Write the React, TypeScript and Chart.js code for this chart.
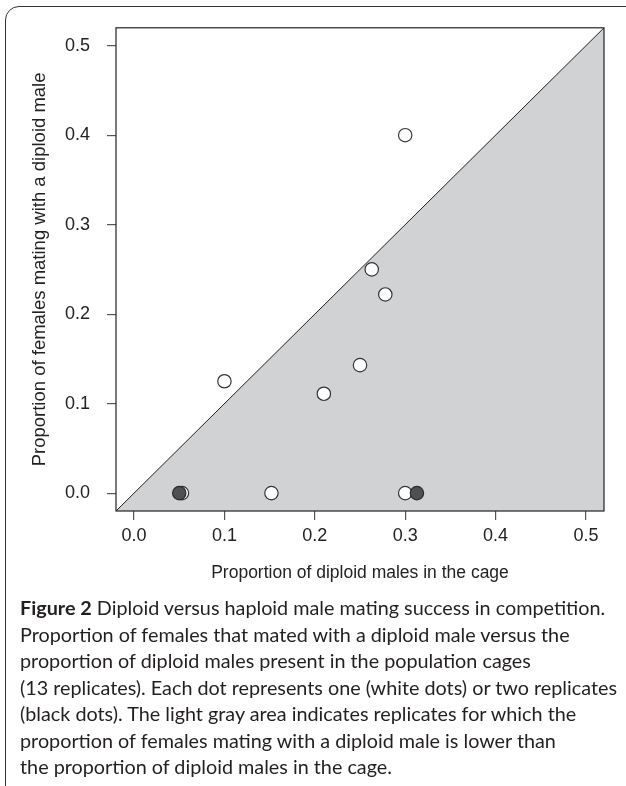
import React, { useEffect, useRef } from "react";
import { Chart, registerables } from "chart.js";

Chart.register(...registerables);

// Axis range (R default 4% extension of 0..0.5)
const AXIS_MIN = -0.02;
const AXIS_MAX = 0.52;
const TICK_VALUES = [0, 0.1, 0.2, 0.3, 0.4, 0.5];

// One replicate per dot (white)
const WHITE_X = [0.3, 0.263, 0.278, 0.1, 0.25, 0.21, 0.053, 0.152, 0.3];
const WHITE_Y = [0.4, 0.25, 0.222, 0.125, 0.143, 0.111, 0.0, 0.0, 0.0];

// Two replicates per dot (black)
const BLACK_X = [0.05, 0.313];
const BLACK_Y = [0.0, 0.0];

const X_TITLE = "Proportion of diploid males in the cage";
const Y_TITLE = "Proportion of females mating with a diploid male";

const CAPTION_BOLD = "Figure 2";
const CAPTION_LINES = [
  " Diploid versus haploid male mating success in competition.",
  "Proportion of females that mated with a diploid male versus the",
  "proportion of diploid males present in the population cages",
  "(13 replicates). Each dot represents one (white dots) or two replicates",
  "(black dots). The light gray area indicates replicates for which the",
  "proportion of females mating with a diploid male is lower than",
  "the proportion of diploid males in the cage.",
];

const FONT = "'Liberation Sans', Arial, Helvetica, sans-serif";

const boxPlugin = {
  id: "plotBox",
  afterDatasetsDraw(chart: any) {
    const { ctx, chartArea } = chart;
    ctx.save();
    ctx.strokeStyle = "#222";
    ctx.lineWidth = 1.2;
    ctx.strokeRect(
      chartArea.left,
      chartArea.top,
      chartArea.right - chartArea.left,
      chartArea.bottom - chartArea.top
    );
    ctx.restore();
  },
};

function ScatterChart() {
  const ref = useRef<HTMLCanvasElement | null>(null);

  useEffect(() => {
    if (!ref.current) return;
    const pointsOf = (xs: number[], ys: number[]) =>
      xs.map((x, i) => ({ x, y: ys[i] }));

    const chart = new Chart(ref.current, {
      type: "scatter",
      data: {
        datasets: [
          {
            label: "two replicates",
            data: pointsOf(BLACK_X, BLACK_Y),
            backgroundColor: "#505052",
            borderColor: "#2a2a2a",
            borderWidth: 1.2,
            pointRadius: 6.7,
          },
          {
            label: "one replicate",
            data: pointsOf(WHITE_X, WHITE_Y),
            backgroundColor: "#ffffff",
            borderColor: "#333333",
            borderWidth: 1.2,
            pointRadius: 6.7,
          },
          {
            label: "diagonal",
            data: [
              { x: AXIS_MIN, y: AXIS_MIN },
              { x: AXIS_MAX, y: AXIS_MAX },
            ],
            showLine: true,
            fill: "start",
            backgroundColor: "#d1d2d4",
            borderColor: "#222222",
            borderWidth: 1,
            pointRadius: 0,
          } as any,
        ],
      },
      options: {
        animation: false,
        responsive: false,
        devicePixelRatio: 1,
        layout: { padding: { top: 23, right: 22, left: 0, bottom: 0 } },
        plugins: {
          legend: { display: false },
          tooltip: { enabled: false },
        },
        scales: {
          x: {
            type: "linear",
            min: AXIS_MIN,
            max: AXIS_MAX,
            afterBuildTicks: (scale: any) => {
              scale.ticks = TICK_VALUES.map((v) => ({ value: v }));
            },
            afterFit: (scale: any) => {
              scale.height = 89;
            },
            ticks: {
              font: { family: FONT, size: 18 },
              color: "#222",
              padding: 5,
              maxRotation: 0,
              callback: (v: any) => Number(v).toFixed(1),
            },
            grid: {
              drawOnChartArea: false,
              drawTicks: true,
              tickLength: 9,
              color: "#555",
              lineWidth: 1.2,
            },
            border: { display: false },
            title: {
              display: true,
              text: X_TITLE,
              font: { family: FONT, size: 17.5 },
              color: "#222",
              padding: { top: 0, bottom: 16 },
            },
          },
          y: {
            type: "linear",
            min: AXIS_MIN,
            max: AXIS_MAX,
            afterBuildTicks: (scale: any) => {
              scale.ticks = TICK_VALUES.map((v) => ({ value: v }));
            },
            afterFit: (scale: any) => {
              scale.width = 116;
            },
            ticks: {
              font: { family: FONT, size: 18 },
              color: "#222",
              padding: 17,
              callback: (v: any) => Number(v).toFixed(1),
            },
            grid: {
              drawOnChartArea: false,
              drawTicks: true,
              tickLength: 9,
              color: "#555",
              lineWidth: 1.2,
            },
            border: { display: false },
            title: {
              display: true,
              text: Y_TITLE,
              font: { family: FONT, size: 18.5 },
              color: "#222",
              padding: { top: 29, bottom: 0 },
            },
          },
        },
      },
      plugins: [boxPlugin],
    });
    return () => chart.destroy();
  }, []);

  return (
    <canvas
      ref={ref}
      width={626}
      height={600}
      style={{ position: "absolute", left: 0, top: 0, width: 626, height: 600 }}
    />
  );
}

export default function App() {
  return (
    <div
      style={{
        position: "absolute",
        left: 0,
        top: 0,
        width: 626,
        height: 786,
        overflow: "hidden",
        background: "#fff",
      }}
    >
      <div
        style={{
          position: "absolute",
          left: 5,
          top: 6,
          width: 640,
          height: 800,
          border: "1.4px solid #333",
          borderRadius: 14,
          boxSizing: "border-box",
        }}
      />
      <ScatterChart />
      <div
        style={{
          position: "absolute",
          left: 20,
          top: 594,
          fontFamily: "Lato, 'Open Sans', sans-serif",
          fontSize: 19.8,
          lineHeight: "26.5px",
          color: "#231f20",
          whiteSpace: "nowrap",
        }}
      >
        <b>{CAPTION_BOLD}</b>
        {CAPTION_LINES.map((line, i) => (
          <React.Fragment key={i}>
            {i > 0 && <br />}
            {line}
          </React.Fragment>
        ))}
      </div>
    </div>
  );
}
